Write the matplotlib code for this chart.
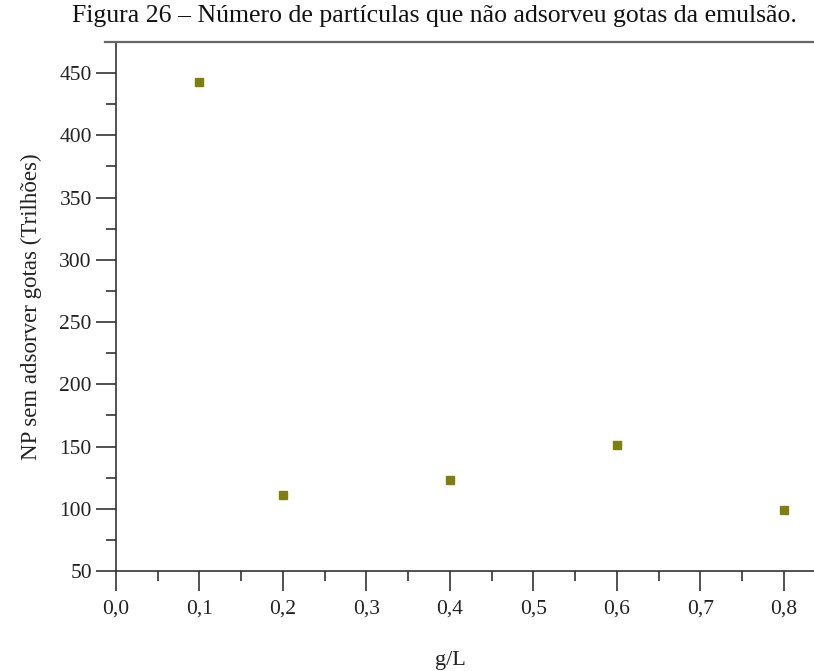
import matplotlib
matplotlib.use("Agg")
import matplotlib.pyplot as plt
from matplotlib.ticker import MultipleLocator, FuncFormatter
from matplotlib.lines import Line2D

# Concentração (g/L) e número de partículas sem gotas adsorvidas (trilhões)
concentracao = [0.1, 0.2, 0.4, 0.6, 0.8]
np_sem_gotas = [443, 111, 123, 151, 99]

titulo = "Figura 26 – Número de partículas que não adsorveu gotas da emulsão."
rotulo_x = "g/L"
rotulo_y = "NP sem adsorver gotas (Trilhões)"

plt.rcParams["font.family"] = ["Liberation Serif", "DejaVu Serif"]

W, H = 814, 671
fig = plt.figure(figsize=(W / 100, H / 100), dpi=100)
ax = fig.add_axes([116 / W, 1 - 571 / H, 1 - 116 / W, (571 - 42) / H])

ax.plot(concentracao, np_sem_gotas, linestyle="none", marker="s",
        markersize=5.2, color="#7d8010", markeredgecolor="#7d8010")

ax.set_xlim(0, 0.836)
ax.set_ylim(50, 475)

ax.xaxis.set_major_locator(MultipleLocator(0.1))
ax.xaxis.set_minor_locator(MultipleLocator(0.05))
ax.yaxis.set_major_locator(MultipleLocator(50))
ax.yaxis.set_minor_locator(MultipleLocator(25))
ax.xaxis.set_major_formatter(FuncFormatter(lambda v, p: f"{v:.1f}".replace(".", ",")))
ax.yaxis.set_major_formatter(FuncFormatter(lambda v, p: f"{v:.0f}"))

ax.tick_params(axis="both", which="major", direction="out", length=14.4,
               width=1.2, color="#333333", labelsize=15.5, labelcolor="#222222")
ax.tick_params(axis="x", which="major", pad=6)
ax.tick_params(axis="y", which="major", pad=3)
ax.tick_params(axis="both", which="minor", direction="out", length=7.2,
               width=1.2, color="#333333")

for s in ("top", "right"):
    ax.spines[s].set_visible(False)
for s in ("left", "bottom"):
    ax.spines[s].set_color("#333333")
    ax.spines[s].set_linewidth(1.2)

# Linha de moldura superior
fig.add_artist(Line2D([105 / W, 1.0], [1 - 42 / H, 1 - 42 / H],
                      transform=fig.transFigure, color="#666666", linewidth=1.6))

ax.set_xlabel(rotulo_x, fontsize=16, color="#222222", va="center")
ax.xaxis.set_label_coords(0.4 / 0.836, -(660 - 571) / (571 - 42))
ax.set_ylabel(rotulo_y, fontsize=16.5, color="#222222", va="center")
ax.yaxis.set_label_coords(-(116 - 31) / (W - 116), 0.5)

fig.text(434 / W, 1 - 16 / H, titulo, ha="center", va="center", fontsize=18.5, color="#111111")

fig.savefig("out.png", dpi=100)
